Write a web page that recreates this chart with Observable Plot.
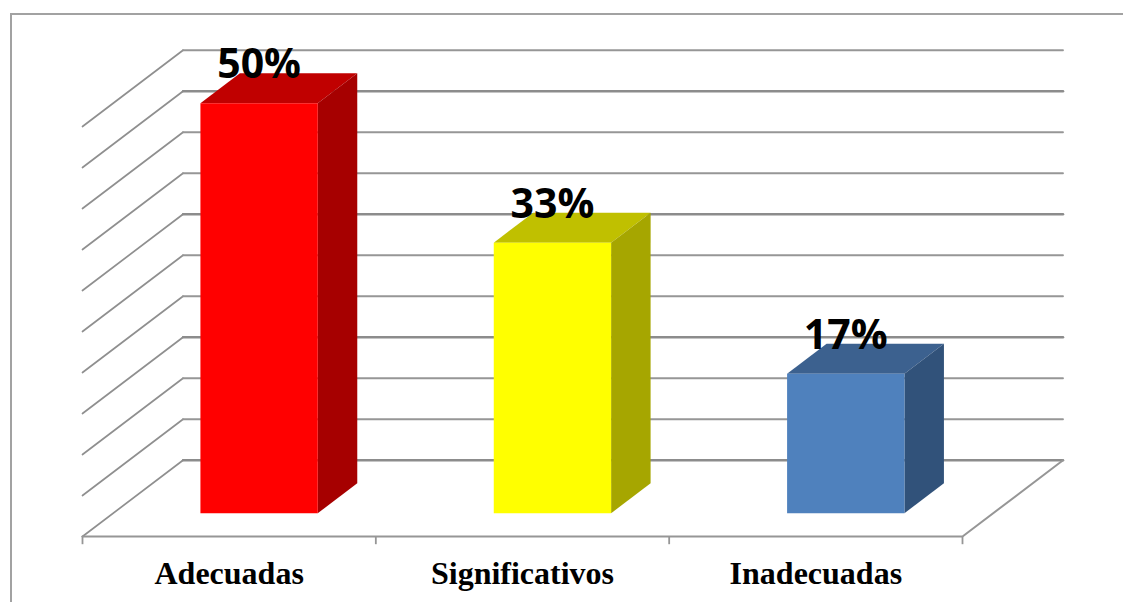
<!DOCTYPE html>
<html>
<head>
<meta charset="utf-8">
<script src="https://cdn.jsdelivr.net/npm/d3@7"></script>
<script src="https://cdn.jsdelivr.net/npm/@observablehq/plot@0.6"></script>
<style>
html,body{margin:0;padding:0;background:#fff;width:1123px;height:602px;overflow:hidden}
#chart{position:relative;width:1123px;height:602px}
#chart svg{position:absolute;left:0;top:0;background:transparent}
#border{position:absolute;left:10px;top:13px;width:1113px;height:589px;border-left:2px solid #a2a2a2;border-top:2px solid #a2a2a2;box-sizing:border-box}
</style>
</head>
<body>
<div id="chart"><div id="border"></div></div>
<script>
const categories = ["Adecuadas", "Significativos", "Inadecuadas"];
const values = [50, 33, 17];
const labels = ["50%", "33%", "17%"];
const frontColors = ["#ff0000", "#ffff00", "#4f81bd"];
const topColors = ["#c00000", "#c0c000", "#3c618f"];
const sideColors = ["#a60000", "#a6a600", "#31527a"];
const gridLevels = [0, 5, 10, 15, 20, 25, 30, 35, 40, 45, 50];
const heavyLevels = [0, 15, 30, 45];
const tickPositions = [0, 1, 2, 3];

// oblique projection expressed in data units
const shiftX = 0.3427, shiftY = 9.3;
const barWidth = 0.4, barCenter = 0.4975, barFront = 0.305, barDepth = 0.393;
const project = (c, v, d) => ({px: c + d * shiftX, py: v + d * shiftY});

const sideLines = gridLevels.flatMap(v => [
  {id: `S${v}`, ...project(0, v, 0)},
  {id: `S${v}`, ...project(0, v, 1)}
]);
const backLines = gridLevels.flatMap(v => [
  {id: `B${v}`, heavy: heavyLevels.includes(v), ...project(0, v, 1)},
  {id: `B${v}`, heavy: heavyLevels.includes(v), ...project(3, v, 1)}
]);
const floorEdge = [project(0, 0, 0), project(3, 0, 0), project(3, 0, 1)];

const faces = categories.flatMap((cat, i) => {
  const l = i + barCenter - barWidth / 2, r = i + barCenter + barWidth / 2, v = values[i];
  const d0 = barFront, d1 = barFront + barDepth;
  const poly = (id, fill, pts) => pts.map(p => ({id: `${cat}-${id}`, fill, ...project(...p)}));
  return [
    ...poly("top", topColors[i], [[l, v, d0], [r, v, d0], [r, v, d1], [l, v, d1]]),
    ...poly("side", sideColors[i], [[r, 0, d0], [r, v, d0], [r, v, d1], [r, 0, d1]]),
    ...poly("front", frontColors[i], [[l, 0, d0], [r, 0, d0], [r, v, d0], [l, v, d0]])
  ];
});

const barLabels = categories.map((cat, i) => ({
  text: labels[i], ...project(i + barCenter, values[i], barFront)
}));
const catLabels = categories.map((cat, i) => ({text: cat, c: i + 0.5}));

const plot = Plot.plot({
  width: 1123, height: 602,
  margin: 0,
  style: {background: "transparent"},
  x: {axis: null, domain: [0, 3], range: [82, 962]},
  y: {axis: null, domain: [0, 50], range: [536, 126]},
  marks: [
    Plot.line(sideLines, {x: "px", y: "py", z: "id", stroke: "#8f8f8f", strokeWidth: 1.7}),
    Plot.line(backLines.filter(d => !d.heavy), {x: "px", y: "py", z: "id", stroke: "#969696", strokeWidth: 1.8}),
    Plot.line(backLines.filter(d => d.heavy), {x: "px", y: "py", z: "id", stroke: "#8c8c8c", strokeWidth: 2.5}),
    Plot.line(floorEdge, {x: "px", y: "py", stroke: "#969696", strokeWidth: 2}),
    Plot.ruleX(tickPositions, {y1: 0, y2: -1, stroke: "#969696", strokeWidth: 1.8}),
    Plot.line(faces, {x: "px", y: "py", z: "id", fill: "fill", stroke: "none"}),
    Plot.text(barLabels, {x: "px", y: "py", text: "text", dy: -25, lineAnchor: "bottom", textAnchor: "middle",
      fontFamily: "Open Sans", fontWeight: 700, fontSize: 41, fill: "#000"}),
    Plot.text(catLabels, {x: "c", y: 0, text: "text", dy: 47, lineAnchor: "bottom", textAnchor: "middle",
      fontFamily: "Liberation Serif", fontWeight: 700, fontSize: 32, fill: "#000"})
  ]
});
document.getElementById("chart").appendChild(plot);
</script>
</body>
</html>
